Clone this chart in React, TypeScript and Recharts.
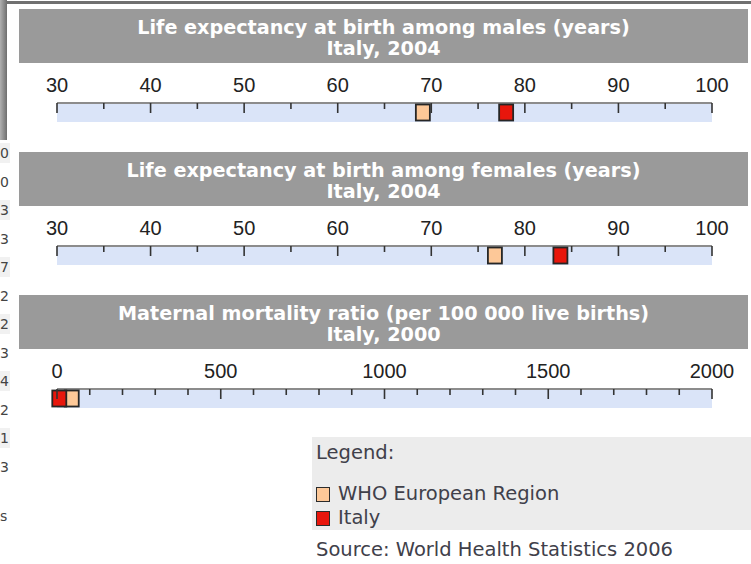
import React from "react";
import { ComposedChart, XAxis, YAxis, Scatter, ReferenceArea } from "recharts";

// series order: WHO region first, then the country (drawn on top)
const seriesNames = ["WHO European Region", "Italy"];
const seriesColors = ["#fdc898", "#e8160c"];

const maleValues = [69.1, 78.0];
const femaleValues = [76.8, 83.8];
const mmrValues = [45, 7];

const lifeTicks = [30, 35, 40, 45, 50, 55, 60, 65, 70, 75, 80, 85, 90, 95, 100];
const lifeLabels = [30, 40, 50, 60, 70, 80, 90, 100];
const mmrTicks = [0, 100, 200, 300, 400, 500, 600, 700, 800, 900, 1000, 1100, 1200, 1300, 1400, 1500, 1600, 1700, 1800, 1900, 2000];
const mmrLabels = [0, 500, 1000, 1500, 2000];
const mmrMajor = [0, 500, 1000, 1500, 2000];

const sideDigits = ["0", "0", "3", "3", "7", "2", "2", "3", "4", "2", "1", "3"];

const textFont = "'DejaVu Sans', Verdana, sans-serif";
const tickFont = "'Liberation Sans Narrow', 'Liberation Sans', Arial, sans-serif";

const Marker = (props: any) => {
  const { cx, cy, fill } = props;
  if (cx == null || cy == null) return null;
  return <rect x={cx - 7} y={cy - 8} width={14} height={16} fill={fill} stroke="#262626" strokeWidth={1.8} />;
};

function ScaleTick(props: any) {
  const { x, y, payload, labels, majors } = props;
  const v = payload.value;
  const len = majors.includes(v) ? 10 : 6;
  return (
    <g>
      <line x1={x} x2={x} y1={y} y2={y + len} stroke="#333" strokeWidth={1.6} />
      {labels.includes(v) && (
        <text x={x} y={y - 11} textAnchor="middle" fontFamily={tickFont} fontSize={20} fill="#222">
          {v}
        </text>
      )}
    </g>
  );
}

interface PanelProps {
  top: number;
  title: string;
  subtitle: string;
  domain: [number, number];
  ticks: number[];
  labels: number[];
  majors: number[];
  values: number[];
}

function Panel({ top, title, subtitle, domain, ticks, labels, majors, values }: PanelProps) {
  return (
    <>
      <div
        style={{
          position: "absolute", left: 19, top, width: 729, height: 54, background: "#9a9a9a",
          color: "#fff", fontFamily: textFont, fontWeight: "bold", fontSize: 19.2, lineHeight: "21px",
          textAlign: "center", paddingTop: 8, boxSizing: "border-box",
        }}
      >
        <div>{title}</div>
        <div>{subtitle}</div>
      </div>
      <div style={{ position: "absolute", left: 0, top: top + 94 - 30 }}>
        <ComposedChart width={751} height={49} margin={{ top: 0, right: 39, left: 57, bottom: 0 }}>
          <ReferenceArea x1={domain[0]} x2={domain[1]} y1={0} y2={1} fill="#dae4f8" fillOpacity={1} stroke="none" />
          <XAxis
            type="number"
            dataKey="x"
            orientation="top"
            height={30}
            domain={domain}
            ticks={ticks}
            interval={0}
            tickSize={0}
            tickMargin={0}
            tickLine={false}
            axisLine={{ stroke: "#8c8c8c", strokeWidth: 2 }}
            tick={(p: any) => <ScaleTick {...p} labels={labels} majors={majors} />}
          />
          <YAxis type="number" dataKey="y" domain={[0, 1]} hide />
          {values.map((v, i) => (
            <Scatter
              key={seriesNames[i]}
              name={seriesNames[i]}
              data={[{ x: v, y: 0.5 }]}
              dataKey="y"
              fill={seriesColors[i]}
              shape={Marker}
              isAnimationActive={false}
            />
          ))}
        </ComposedChart>
      </div>
    </>
  );
}

export default function App() {
  return (
    <div style={{ position: "absolute", left: 0, top: 0, width: 751, height: 564, background: "#fff", overflow: "hidden" }}>
      <div style={{ position: "absolute", left: 0, top: 1, width: 751, height: 3, background: "#707070" }} />
      <div style={{ position: "absolute", left: 0, top: 0, width: 7, height: 140, background: "linear-gradient(90deg,#b0b0b0,#6e6e6e)" }} />
      {sideDigits.map((d, i) => (
        <div
          key={i}
          style={{
            position: "absolute", left: 0, top: 143 + i * 28.5, width: 10, textAlign: "left",
            fontFamily: textFont, fontSize: 14, color: "#444", lineHeight: "20px",
            background: i % 2 === 0 ? "#f1f1f1" : "transparent",
          }}
        >
          {d}
        </div>
      ))}
      <div style={{ position: "absolute", left: 0, top: 508, width: 10, fontFamily: textFont, fontSize: 14, color: "#444" }}>s</div>

      <Panel top={9} title="Life expectancy at birth among males (years)" subtitle="Italy, 2004"
        domain={[30, 100]} ticks={lifeTicks} labels={lifeLabels} majors={lifeLabels} values={maleValues} />
      <Panel top={152} title="Life expectancy at birth among females (years)" subtitle="Italy, 2004"
        domain={[30, 100]} ticks={lifeTicks} labels={lifeLabels} majors={lifeLabels} values={femaleValues} />
      <Panel top={295} title="Maternal mortality ratio (per 100 000 live births)" subtitle="Italy, 2000"
        domain={[0, 2000]} ticks={mmrTicks} labels={mmrLabels} majors={mmrMajor} values={mmrValues} />

      <div style={{ position: "absolute", left: 312, top: 437, width: 439, height: 93, background: "#ececec", fontFamily: textFont, fontSize: 19.5, color: "#40404a" }}>
        <div style={{ position: "absolute", left: 4, top: 4, lineHeight: "24px" }}>Legend:</div>
        {seriesNames.map((n, i) => (
          <div key={n} style={{ position: "absolute", left: 4, top: 45 + i * 24, lineHeight: "24px", display: "flex", alignItems: "center" }}>
            <span style={{ display: "inline-block", width: 12, height: 13, background: seriesColors[i], border: "1.5px solid #2b2b2b", marginRight: 8 }} />
            {n}
          </div>
        ))}
      </div>
      <div style={{ position: "absolute", left: 316, top: 538, fontFamily: textFont, fontSize: 19.5, color: "#40404a", lineHeight: "24px" }}>
        Source: World Health Statistics 2006
      </div>
    </div>
  );
}
